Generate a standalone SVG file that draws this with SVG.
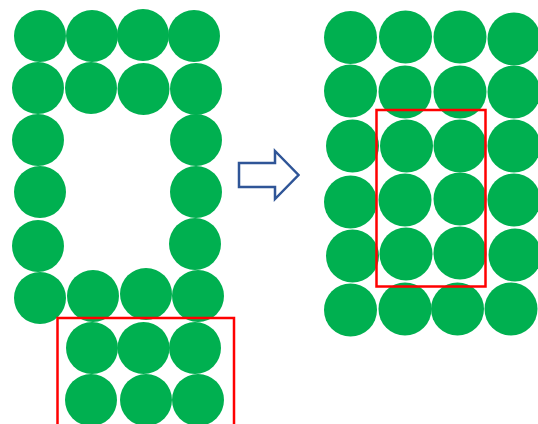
<svg xmlns="http://www.w3.org/2000/svg" width="538" height="424" viewBox="0 0 538 424">
<style>
.c{fill:#00B050}
.l{r:26px}
.r{r:26.5px}
.box{fill:none;stroke:#FF0000;stroke-width:2.5}
.arrow{fill:#FFFFFF;stroke:#2F5597;stroke-width:2.5;stroke-linejoin:miter}
</style>
<rect width="538" height="424" fill="#FFFFFF"/>
<g id="left">
<circle class="c" cx="40" cy="36" r="26"/>
<circle class="c" cx="92" cy="36" r="26"/>
<circle class="c" cx="143" cy="35" r="26"/>
<circle class="c" cx="194" cy="36" r="26"/>
<circle class="c" cx="38" cy="88" r="26"/>
<circle class="c" cx="91" cy="88" r="26"/>
<circle class="c" cx="143.5" cy="89" r="26"/>
<circle class="c" cx="196" cy="89" r="26"/>
<circle class="c" cx="38" cy="140" r="26"/>
<circle class="c" cx="196" cy="140" r="26"/>
<circle class="c" cx="40" cy="192" r="26"/>
<circle class="c" cx="196" cy="192" r="26"/>
<circle class="c" cx="38" cy="246" r="26"/>
<circle class="c" cx="195" cy="244" r="26"/>
<circle class="c" cx="40" cy="298" r="26"/>
<circle class="c" cx="93" cy="296" r="26"/>
<circle class="c" cx="146" cy="294" r="26"/>
<circle class="c" cx="198" cy="296" r="26"/>
<circle class="c" cx="92" cy="348" r="26"/>
<circle class="c" cx="143.5" cy="348" r="26"/>
<circle class="c" cx="195" cy="348" r="26"/>
<circle class="c" cx="91" cy="400" r="26"/>
<circle class="c" cx="146" cy="400" r="26"/>
<circle class="c" cx="198" cy="400" r="26"/>
<rect id="left-box" class="box" x="57.5" y="318" width="176.5" height="110"/>
</g>
<g id="arrow">
<polygon class="arrow" points="239,163 275,163 275,151 298.5,175 275,199 275,187 239,187"/>
</g>
<g id="right">
<circle class="c" cx="350.5" cy="37.5" r="26.5"/>
<circle class="c" cx="405.5" cy="37" r="26.5"/>
<circle class="c" cx="460" cy="37" r="26.5"/>
<circle class="c" cx="514" cy="39" r="26.5"/>
<circle class="c" cx="350.5" cy="91" r="26.5"/>
<circle class="c" cx="405" cy="92" r="26.5"/>
<circle class="c" cx="460" cy="92" r="26.5"/>
<circle class="c" cx="514" cy="92" r="26.5"/>
<circle class="c" cx="352.5" cy="146" r="26.5"/>
<circle class="c" cx="406.5" cy="146" r="26.5"/>
<circle class="c" cx="460" cy="146" r="26.5"/>
<circle class="c" cx="514" cy="146" r="26.5"/>
<circle class="c" cx="350.5" cy="202" r="26.5"/>
<circle class="c" cx="405" cy="200" r="26.5"/>
<circle class="c" cx="460" cy="199" r="26.5"/>
<circle class="c" cx="514" cy="200" r="26.5"/>
<circle class="c" cx="352.5" cy="256" r="26.5"/>
<circle class="c" cx="406" cy="254" r="26.5"/>
<circle class="c" cx="460" cy="253" r="26.5"/>
<circle class="c" cx="515" cy="255" r="26.5"/>
<circle class="c" cx="350.5" cy="310" r="26.5"/>
<circle class="c" cx="405" cy="309" r="26.5"/>
<circle class="c" cx="457.5" cy="309" r="26.5"/>
<circle class="c" cx="511" cy="309" r="26.5"/>
<rect id="right-box" class="box" x="376.5" y="110" width="109" height="176.5"/>
</g>
<g id="connectors"></g>
</svg>
